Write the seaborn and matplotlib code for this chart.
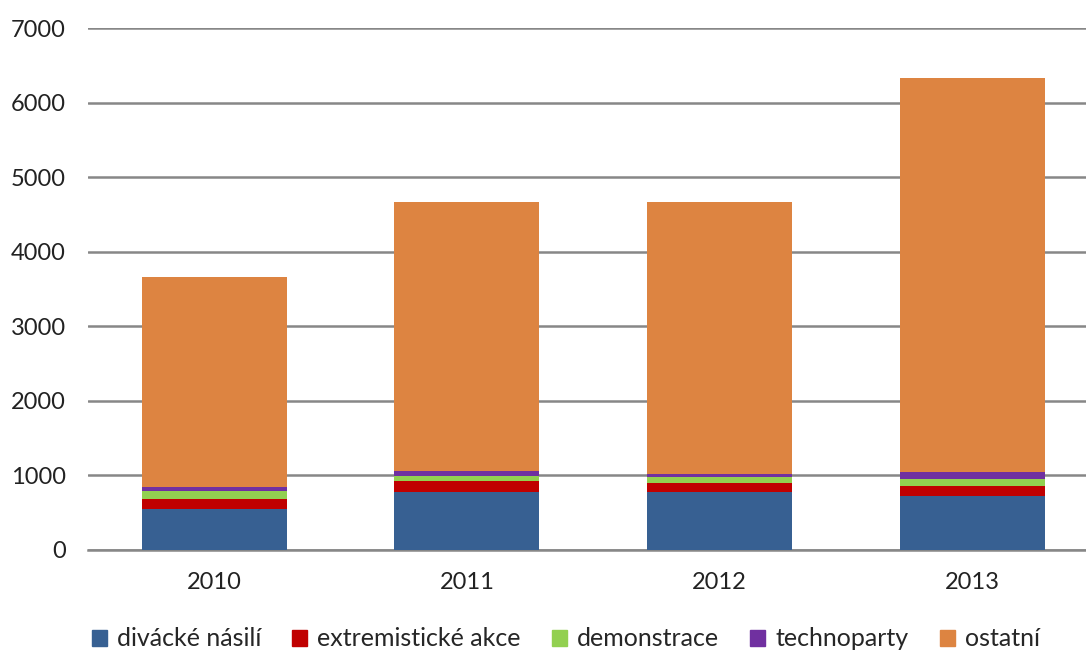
import matplotlib
matplotlib.use("Agg")
import matplotlib.pyplot as plt
import matplotlib.patches as mpatches
import seaborn as sns
import pandas as pd
import numpy as np

years = ["2010", "2011", "2012", "2013"]
series = ["divácké násilí", "extremistické akce", "demonstrace", "technoparty", "ostatní"]
divacke = [550, 770, 770, 717]
extremisticke = [130, 148, 121, 134]
demonstrace = [105, 71, 81, 91]
technoparty = [57, 71, 40, 102]
ostatni = [2816, 3604, 3652, 5285]
colors = ["#376092", "#C00000", "#92D050", "#7030A0", "#DD8441"]

sns.set_style("white")
plt.rcParams["font.family"] = ["Lato", "DejaVu Sans"]

values = np.array([divacke, extremisticke, demonstrace, technoparty, ostatni])
cum = values.cumsum(axis=0)

fig = plt.figure(figsize=(10.86, 6.52), dpi=100)
ax = fig.add_axes([0.081, 0.157, 0.919, 0.8])

# draw from the tallest cumulative total down so lower segments sit on top
for i in range(len(series) - 1, -1, -1):
    df = pd.DataFrame({"rok": years, "hodnota": cum[i]})
    sns.barplot(data=df, x="rok", y="hodnota", color=colors[i], saturation=1,
                width=0.574, ax=ax, linewidth=0, zorder=3)

ax.set_ylim(0, 7000)
ax.set_xlim(-0.5, 3.45)
ax.set_yticks(range(0, 7001, 1000))
ax.yaxis.grid(True, color="#878787", linewidth=1.8)
ax.set_axisbelow(True)
ax.set_xlabel("")
ax.set_ylabel("")
for s in ["left", "right", "top"]:
    ax.spines[s].set_visible(False)
ax.spines["bottom"].set_color("#878787")
ax.spines["bottom"].set_linewidth(1.8)
ax.tick_params(axis="y", length=0, pad=16, labelsize=17, colors="#222222")
ax.tick_params(axis="x", length=0, pad=16, labelsize=17, colors="#222222")

handles = [mpatches.Patch(color=c, label=s) for s, c in zip(series, colors)]
fig.legend(handles=handles, loc="center", bbox_to_anchor=(0.521, 0.02), ncol=5,
           frameon=False, fontsize=18, handlelength=0.6, handleheight=0.6,
           handletextpad=0.4, columnspacing=1.25)

fig.savefig("out.png", dpi=100)
